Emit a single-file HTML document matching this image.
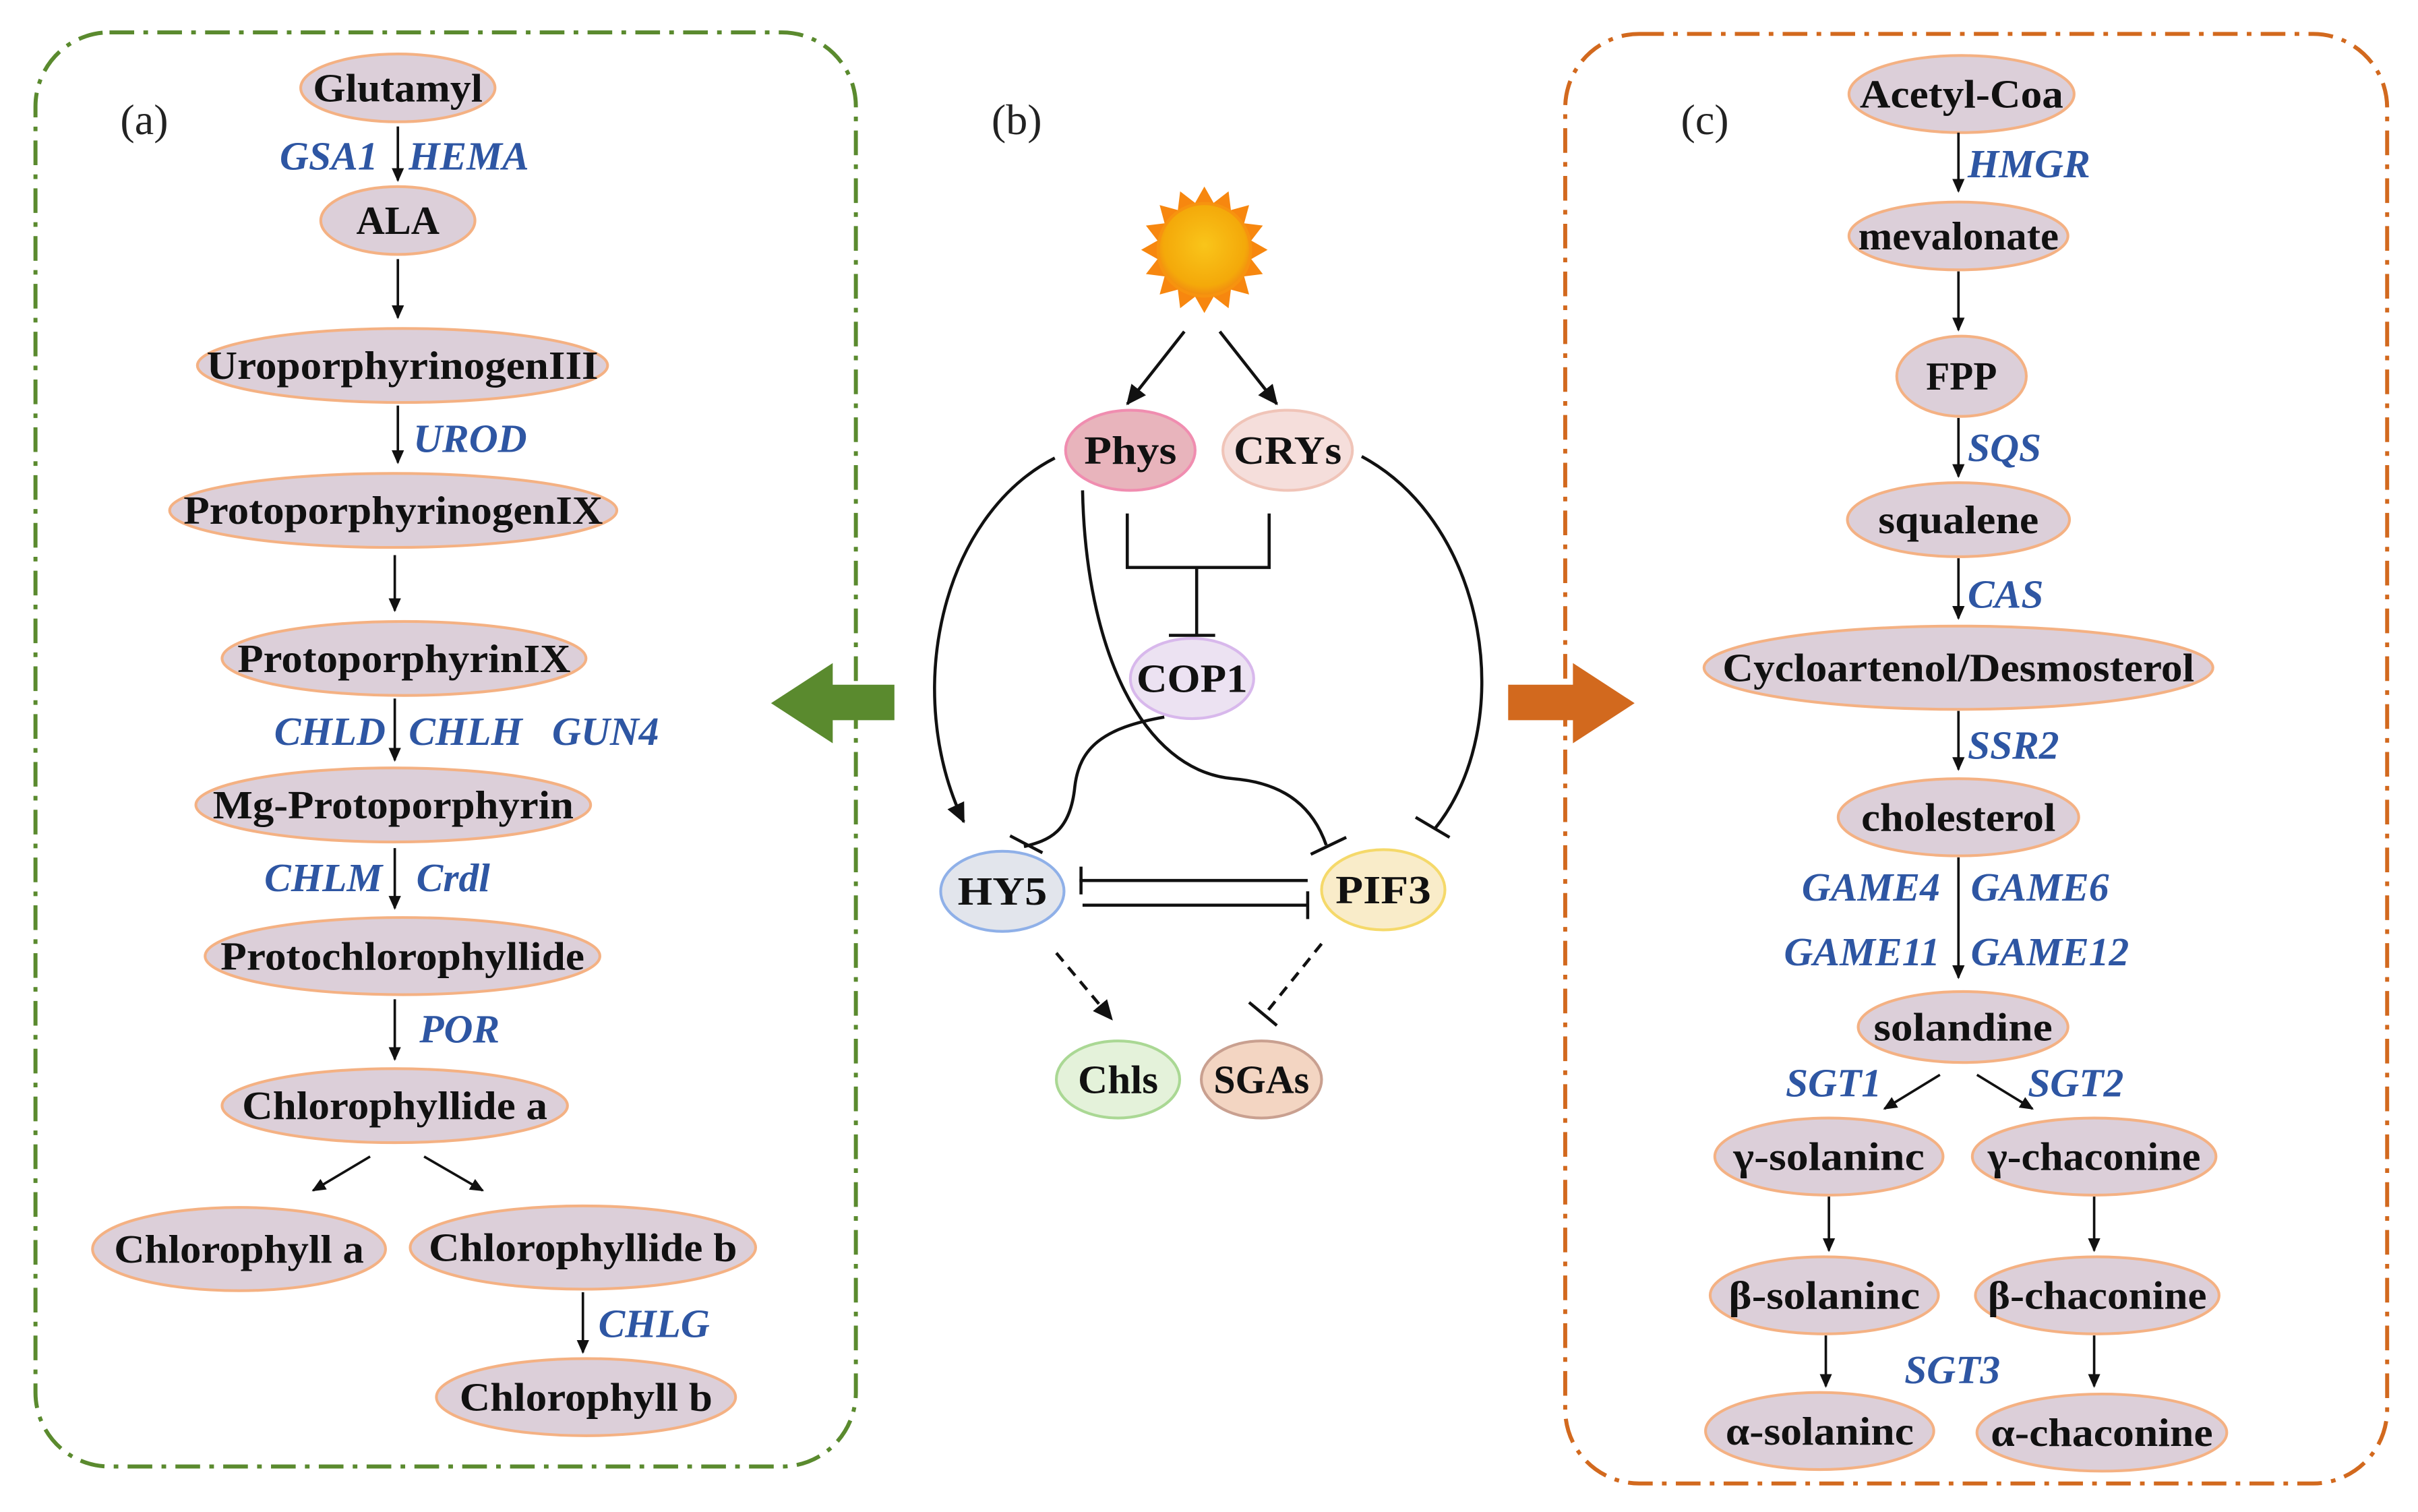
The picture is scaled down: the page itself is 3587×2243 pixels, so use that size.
<!DOCTYPE html>
<html><head><meta charset="utf-8">
<style>
html,body{margin:0;padding:0;background:#fff;}
svg{display:block;}
.n{fill:#dccfd9;stroke:#f4b183;stroke-width:1.8;}
.t{font-family:"Liberation Serif",serif;font-weight:bold;font-size:26px;fill:#111;text-anchor:middle;dominant-baseline:central;}
.g{font-family:"Liberation Serif",serif;font-weight:bold;font-style:italic;font-size:26px;fill:#2e56a3;}
.l{stroke:#111;stroke-width:1.6;fill:none;}
.c{stroke:#111;stroke-width:2;fill:none;}
.p{font-family:"Liberation Serif",serif;font-size:28px;fill:#222;}
</style></head><body>
<svg width="3587" height="2243" viewBox="0 0 1568 980.5" xmlns="http://www.w3.org/2000/svg">
<defs>
<marker id="a" markerWidth="10" markerHeight="10" refX="8" refY="5" orient="auto" markerUnits="userSpaceOnUse"><path d="M0,1 L9,5 L0,9 Z" fill="#111"/></marker>
<marker id="b" markerWidth="14" markerHeight="14" refX="12" refY="7" orient="auto" markerUnits="userSpaceOnUse"><path d="M0,1 L13,7 L0,13 Z" fill="#111"/></marker>
<radialGradient id="sun" cx="50%" cy="45%" r="55%"><stop offset="0" stop-color="#f9c51a"/><stop offset="0.8" stop-color="#f4a90a"/><stop offset="1" stop-color="#f28a10"/></radialGradient>
</defs>
<rect x="23" y="21" width="532" height="930" rx="48" fill="none" stroke="#5a8a2e" stroke-width="2.6" stroke-dasharray="16,6,3,6"/>
<rect x="1015" y="22" width="533" height="940" rx="48" fill="none" stroke="#d2691e" stroke-width="2.6" stroke-dasharray="16,6,3,6"/>
<text class="p" x="78" y="87">(a)</text>
<text class="p" x="643" y="87">(b)</text>
<text class="p" x="1090" y="87">(c)</text>

<!-- left panel -->
<g>
<ellipse class="n" cx="258" cy="57" rx="63" ry="22"/><text class="t" x="258" y="57" textLength="110" lengthAdjust="spacingAndGlyphs">Glutamyl</text>
<ellipse class="n" cx="258" cy="143" rx="50" ry="22"/><text class="t" x="258" y="143" textLength="54" lengthAdjust="spacingAndGlyphs">ALA</text>
<ellipse class="n" cx="261" cy="237" rx="133" ry="24"/><text class="t" x="261" y="237" textLength="254" lengthAdjust="spacingAndGlyphs">UroporphyrinogenIII</text>
<ellipse class="n" cx="255" cy="331" rx="145" ry="24"/><text class="t" x="255" y="331" textLength="272" lengthAdjust="spacingAndGlyphs">ProtoporphyrinogenIX</text>
<ellipse class="n" cx="262" cy="427" rx="118" ry="24"/><text class="t" x="262" y="427" textLength="216" lengthAdjust="spacingAndGlyphs">ProtoporphyrinIX</text>
<ellipse class="n" cx="255" cy="522" rx="128" ry="24"/><text class="t" x="255" y="522" textLength="234" lengthAdjust="spacingAndGlyphs">Mg-Protoporphyrin</text>
<ellipse class="n" cx="261" cy="620" rx="128" ry="25"/><text class="t" x="261" y="620" textLength="236" lengthAdjust="spacingAndGlyphs">Protochlorophyllide</text>
<ellipse class="n" cx="256" cy="717" rx="112" ry="24"/><text class="t" x="256" y="717" textLength="198" lengthAdjust="spacingAndGlyphs">Chlorophyllide a</text>
<ellipse class="n" cx="155" cy="810" rx="95" ry="27"/><text class="t" x="155" y="810" textLength="162" lengthAdjust="spacingAndGlyphs">Chlorophyll a</text>
<ellipse class="n" cx="378" cy="809" rx="112" ry="27"/><text class="t" x="378" y="809" textLength="200" lengthAdjust="spacingAndGlyphs">Chlorophyllide b</text>
<ellipse class="n" cx="380" cy="906" rx="97" ry="25"/><text class="t" x="380" y="906" textLength="164" lengthAdjust="spacingAndGlyphs">Chlorophyll b</text>
<line class="l" x1="258" y1="82" x2="258" y2="117" marker-end="url(#a)"/>
<line class="l" x1="258" y1="168" x2="258" y2="206" marker-end="url(#a)"/>
<line class="l" x1="258" y1="263" x2="258" y2="300" marker-end="url(#a)"/>
<line class="l" x1="256" y1="360" x2="256" y2="396" marker-end="url(#a)"/>
<line class="l" x1="256" y1="453" x2="256" y2="493" marker-end="url(#a)"/>
<line class="l" x1="256" y1="550" x2="256" y2="589" marker-end="url(#a)"/>
<line class="l" x1="256" y1="648" x2="256" y2="687" marker-end="url(#a)"/>
<line class="l" x1="240" y1="750" x2="203" y2="772" marker-end="url(#a)"/>
<line class="l" x1="275" y1="750" x2="313" y2="772" marker-end="url(#a)"/>
<line class="l" x1="378" y1="838" x2="378" y2="877" marker-end="url(#a)"/>
<text class="g" x="245" y="110" text-anchor="end">GSA1</text>
<text class="g" x="265" y="110">HEMA</text>
<text class="g" x="268" y="293">UROD</text>
<text class="g" x="250" y="483" text-anchor="end">CHLD</text>
<text class="g" x="265" y="483">CHLH</text>
<text class="g" x="358" y="483">GUN4</text>
<text class="g" x="248" y="578" text-anchor="end">CHLM</text>
<text class="g" x="270" y="578">Crdl</text>
<text class="g" x="272" y="676">POR</text>
<text class="g" x="388" y="867">CHLG</text>
</g>

<!-- big arrows -->
<polygon points="580,444 540,444 540,430 500,456 540,482 540,467 580,467" fill="#5a8a2e"/>
<polygon points="978,444 1020,444 1020,430 1060,456 1020,482 1020,467 978,467" fill="#d2691e"/>

<!-- middle -->
<g transform="translate(781,162)">
<polygon fill="#f7870f" points="41,0 30.4,6 37.9,15.7 25.8,17.2 29,29 17.2,25.8 15.7,37.9 6,30.4 0,41 -6,30.4 -15.7,37.9 -17.2,25.8 -29,29 -25.8,17.2 -37.9,15.7 -30.4,6 -41,0 -30.4,-6 -37.9,-15.7 -25.8,-17.2 -29,-29 -17.2,-25.8 -15.7,-37.9 -6,-30.4 0,-41 6,-30.4 15.7,-37.9 17.2,-25.8 29,-29 25.8,-17.2 37.9,-15.7 30.4,-6"/>
<circle r="30" fill="url(#sun)" stroke="#f7930f" stroke-width="2"/>
</g>
<line class="c" x1="768" y1="215" x2="731" y2="262" marker-end="url(#b)"/>
<line class="c" x1="791" y1="215" x2="828" y2="262" marker-end="url(#b)"/>

<ellipse cx="733" cy="292" rx="42" ry="26" fill="#e8b4bc" stroke="#f08db0" stroke-width="1.8"/><text class="t" x="733" y="292" textLength="60" lengthAdjust="spacingAndGlyphs">Phys</text>
<ellipse cx="835" cy="292" rx="42" ry="26" fill="#f5dedb" stroke="#f0c4b8" stroke-width="1.8"/><text class="t" x="835" y="292" textLength="70" lengthAdjust="spacingAndGlyphs">CRYs</text>
<ellipse cx="773" cy="440" rx="40" ry="26" fill="#ece2f2" stroke="#d8b8ec" stroke-width="1.8"/><text class="t" x="773" y="440" textLength="72" lengthAdjust="spacingAndGlyphs">COP1</text>
<ellipse cx="650" cy="578" rx="40" ry="26" fill="#e2e5ec" stroke="#8fb0e8" stroke-width="1.8"/><text class="t" x="650" y="578" textLength="58" lengthAdjust="spacingAndGlyphs">HY5</text>
<ellipse cx="897" cy="577" rx="40" ry="26" fill="#f9ecc9" stroke="#f5d96a" stroke-width="1.8"/><text class="t" x="897" y="577" textLength="62" lengthAdjust="spacingAndGlyphs">PIF3</text>
<ellipse cx="725" cy="700" rx="40" ry="25" fill="#e4f2da" stroke="#aad894" stroke-width="1.8"/><text class="t" x="725" y="700" textLength="52" lengthAdjust="spacingAndGlyphs">Chls</text>
<ellipse cx="818" cy="700" rx="39" ry="25" fill="#f3d5c2" stroke="#c9a090" stroke-width="1.8"/><text class="t" x="818" y="700" textLength="62" lengthAdjust="spacingAndGlyphs">SGAs</text>

<path class="c" d="M731,333 V368 H823 V333 M776,368 V412 M758,412 H788"/>
<path class="c" d="M684,297 C610,335 585,450 625,533" marker-end="url(#b)"/>
<path class="c" d="M702,318 C704,420 740,500 800,505 C835,508 852,525 860,548"/>
<line class="c" x1="850" y1="554" x2="873" y2="543"/>
<path class="c" d="M883,296 C965,340 985,470 930,538"/>
<line class="c" x1="918" y1="530" x2="940" y2="543"/>
<path class="c" d="M755,465 C715,472 700,485 697,510 C694,540 680,545 664,549"/>
<line class="c" x1="655" y1="542" x2="676" y2="553"/>
<line class="c" x1="700" y1="571" x2="848" y2="571"/>
<line class="c" x1="701" y1="562" x2="701" y2="580"/>
<line class="c" x1="702" y1="587" x2="848" y2="587"/>
<line class="c" x1="848" y1="578" x2="848" y2="596"/>
<line class="c" x1="685" y1="618" x2="721" y2="661" stroke-dasharray="7,5" marker-end="url(#b)"/>
<line class="c" x1="857" y1="612" x2="820" y2="658" stroke-dasharray="7,5"/>
<line class="c" x1="810" y1="650" x2="828" y2="665"/>

<!-- right panel -->
<g>
<ellipse class="n" cx="1272" cy="61" rx="73" ry="25"/><text class="t" x="1272" y="61" textLength="132" lengthAdjust="spacingAndGlyphs">Acetyl-Coa</text>
<ellipse class="n" cx="1270" cy="153" rx="71" ry="22"/><text class="t" x="1270" y="153" textLength="130" lengthAdjust="spacingAndGlyphs">mevalonate</text>
<ellipse class="n" cx="1272" cy="244" rx="42" ry="26"/><text class="t" x="1272" y="244" textLength="46" lengthAdjust="spacingAndGlyphs">FPP</text>
<ellipse class="n" cx="1270" cy="337" rx="72" ry="24"/><text class="t" x="1270" y="337" textLength="104" lengthAdjust="spacingAndGlyphs">squalene</text>
<ellipse class="n" cx="1270" cy="433" rx="165" ry="27"/><text class="t" x="1270" y="433" textLength="306" lengthAdjust="spacingAndGlyphs">Cycloartenol/Desmosterol</text>
<ellipse class="n" cx="1270" cy="530" rx="78" ry="25"/><text class="t" x="1270" y="530" textLength="126" lengthAdjust="spacingAndGlyphs">cholesterol</text>
<ellipse class="n" cx="1273" cy="666" rx="68" ry="23"/><text class="t" x="1273" y="666" textLength="116" lengthAdjust="spacingAndGlyphs">solandine</text>
<ellipse class="n" cx="1186" cy="750" rx="74" ry="25"/><text class="t" x="1186" y="750" textLength="124" lengthAdjust="spacingAndGlyphs">γ-solaninc</text>
<ellipse class="n" cx="1358" cy="750" rx="79" ry="25"/><text class="t" x="1358" y="750" textLength="138" lengthAdjust="spacingAndGlyphs">γ-chaconine</text>
<ellipse class="n" cx="1183" cy="840" rx="74" ry="25"/><text class="t" x="1183" y="840" textLength="124" lengthAdjust="spacingAndGlyphs">β-solaninc</text>
<ellipse class="n" cx="1360" cy="840" rx="79" ry="25"/><text class="t" x="1360" y="840" textLength="142" lengthAdjust="spacingAndGlyphs">β-chaconine</text>
<ellipse class="n" cx="1180" cy="928" rx="74" ry="25"/><text class="t" x="1180" y="928" textLength="122" lengthAdjust="spacingAndGlyphs">α-solaninc</text>
<ellipse class="n" cx="1363" cy="929" rx="81" ry="25"/><text class="t" x="1363" y="929" textLength="144" lengthAdjust="spacingAndGlyphs">α-chaconine</text>
<line class="l" x1="1270" y1="86" x2="1270" y2="124" marker-end="url(#a)"/>
<line class="l" x1="1270" y1="176" x2="1270" y2="214" marker-end="url(#a)"/>
<line class="l" x1="1270" y1="271" x2="1270" y2="309" marker-end="url(#a)"/>
<line class="l" x1="1270" y1="362" x2="1270" y2="401" marker-end="url(#a)"/>
<line class="l" x1="1270" y1="461" x2="1270" y2="499" marker-end="url(#a)"/>
<line class="l" x1="1270" y1="556" x2="1270" y2="634" marker-end="url(#a)"/>
<line class="l" x1="1258" y1="697" x2="1222" y2="719" marker-end="url(#a)"/>
<line class="l" x1="1282" y1="697" x2="1318" y2="719" marker-end="url(#a)"/>
<line class="l" x1="1186" y1="776" x2="1186" y2="811" marker-end="url(#a)"/>
<line class="l" x1="1358" y1="776" x2="1358" y2="811" marker-end="url(#a)"/>
<line class="l" x1="1184" y1="866" x2="1184" y2="899" marker-end="url(#a)"/>
<line class="l" x1="1358" y1="866" x2="1358" y2="899" marker-end="url(#a)"/>
<text class="g" x="1276" y="115">HMGR</text>
<text class="g" x="1276" y="299">SQS</text>
<text class="g" x="1276" y="394">CAS</text>
<text class="g" x="1276" y="492">SSR2</text>
<text class="g" x="1258" y="584" text-anchor="end">GAME4</text>
<text class="g" x="1278" y="584">GAME6</text>
<text class="g" x="1258" y="626" text-anchor="end">GAME11</text>
<text class="g" x="1278" y="626">GAME12</text>
<text class="g" x="1158" y="711">SGT1</text>
<text class="g" x="1315" y="711">SGT2</text>
<text class="g" x="1235" y="897">SGT3</text>
</g>
</svg>
</body></html>
